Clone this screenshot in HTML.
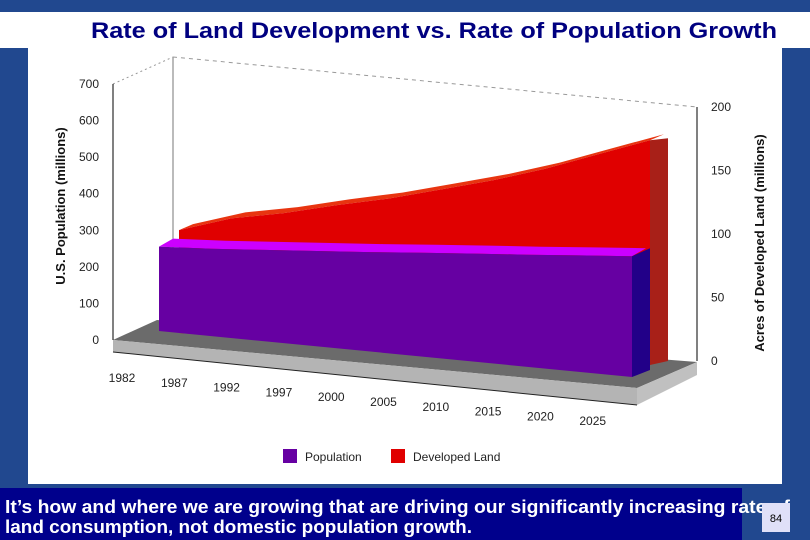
<!DOCTYPE html>
<html><head><meta charset="utf-8"><style>
html,body{margin:0;padding:0;width:810px;height:540px;overflow:hidden;background:#21488f}
svg{display:block}
text{font-family:"Liberation Sans",Arial,sans-serif}
</style></head><body>
<svg id="chart" width="810" height="540" viewBox="0 0 810 540" xmlns="http://www.w3.org/2000/svg">
<rect x="0" y="0" width="810" height="540" fill="#21488f"/>
<rect x="0" y="12" width="810" height="36" fill="#fff"/>
<text x="91" y="38" font-size="22" font-weight="bold" fill="#000080" textLength="686" lengthAdjust="spacingAndGlyphs">Rate of Land Development vs. Rate of Population Growth</text>
<rect x="28" y="48" width="754" height="436" fill="#fff"/>
<g id="plot"></g>
<rect x="0" y="488" width="742" height="52" fill="#00008c"/>
<text x="5" y="513" font-size="18" font-weight="bold" fill="#fff" textLength="785" lengthAdjust="spacingAndGlyphs" font-family="'Liberation Sans Narrow','Liberation Sans',sans-serif">It’s how and where we are growing that are driving our significantly increasing rate of</text>
<text x="5" y="533" font-size="18" font-weight="bold" fill="#fff" textLength="467" lengthAdjust="spacingAndGlyphs" font-family="'Liberation Sans Narrow','Liberation Sans',sans-serif">land consumption, not domestic population growth.</text>
<rect x="762" y="503" width="28" height="29" fill="#e0e0f8"/>
<text x="776" y="522" font-size="11" text-anchor="middle" fill="#000">84</text>
</svg>
<script>
const categories=["1982","1987","1992","1997","2000","2005","2010","2015","2020","2025"];
const population=[232,240,251,262,273,285,297,308,320,332];
const developedLand=[81,93,100,109,117,127,137,149,163,177];
const popTicks=[0,100,200,300,400,500,600,700];
const landTicks=[0,50,100,150,200];

const NS="http://www.w3.org/2000/svg";
const g=document.getElementById('plot');
function mk(tag,attrs,name,parent){const e=document.createElementNS(NS,tag);for(const k in attrs)e.setAttribute(k,attrs[k]);

(parent||g).appendChild(e);return e;}
function pts(a){return a.map(p=>p[0].toFixed(1)+','+p[1].toFixed(1)).join(' ');}
const n=categories.length;
const popX=i=>159+i*(473/(n-1));
const popBase=x=>331+(x-159)*(46/473);
const popY=(i,v)=>popBase(popX(i))-v*0.364;
const landX=i=>179+i*(471/(n-1));
const landBase=x=>333+(x-179)*(32/471);
const landY=(i,v)=>landBase(landX(i))-v*1.27;
const leftAxisY=v=>340-v*(256/700);
const rightAxisY=v=>361-v*(254/200);

mk('line',{x1:173,y1:57,x2:173,y2:320,stroke:'#777','stroke-width':1},'back-wall-edge');
mk('line',{x1:113,y1:84,x2:173,y2:57,stroke:'#999','stroke-dasharray':'2,3'},'top-wall-edge-left');
mk('line',{x1:173,y1:57,x2:697,y2:107,stroke:'#999','stroke-dasharray':'4,4'},'top-wall-edge-back');
mk('polygon',{points:pts([[113,340],[157,320],[697,362],[637,388]]),fill:'#6b6b6b'},'floor-top');
mk('polygon',{points:pts([[113,340],[637,388],[637,405],[113,352]]),fill:'#b4b4b4'},'floor-front');
mk('polygon',{points:pts([[637,388],[697,362],[697,375],[637,405]]),fill:'#c0c0c0'},'floor-side');
mk('line',{x1:113,y1:352,x2:637,y2:405,stroke:'#222','stroke-width':1},'floor-edge');

const ld=14,lh=-6;
const lf=developedLand.map((v,i)=>[landX(i),landY(i,v)]);
const lb=[[landX(n-1),landBase(landX(n-1))],[landX(0),landBase(landX(0))]];
const lt=lf.map(p=>[p[0]+ld,p[1]+lh]).reverse();
mk('polygon',{points:pts(lf.concat(lt)),fill:'#e83410'},'land-top-face');
const lr=lf[n-1],lrb=lb[0];
mk('polygon',{points:pts([lr,[lr[0]+18,lr[1]-2],[lrb[0]+18,lrb[1]-4],lrb]),fill:'#a82018'},'land-side-face');
mk('polygon',{points:pts(lf.concat(lb)),fill:'#e00000'},'land-area');

const pd=14,ph=-8;
const pf=population.map((v,i)=>[popX(i),popY(i,v)]);
const pb=[[popX(n-1),popBase(popX(n-1))],[popX(0),popBase(popX(0))]];
const pt=pf.map(p=>[p[0]+pd,p[1]+ph]).reverse();
mk('polygon',{points:pts(pf.concat(pt)),fill:'#cc00ff'},'population-top-face');
const pr=pf[n-1],prb=pb[0];
mk('polygon',{points:pts([pr,[pr[0]+18,pr[1]-8],[prb[0]+18,prb[1]-7],prb]),fill:'#220088'},'population-side-face');
mk('polygon',{points:pts(pf.concat(pb)),fill:'#6600a2'},'population-area');

mk('line',{x1:113,y1:leftAxisY(700),x2:113,y2:leftAxisY(0),stroke:'#000'},'left-axis');
mk('line',{x1:697,y1:rightAxisY(200),x2:697,y2:rightAxisY(0),stroke:'#000'},'right-axis');
popTicks.forEach(v=>{const t=mk('text',{x:99,y:leftAxisY(v)+4,'font-size':12,'text-anchor':'end',fill:'#222'},'left-tick-label');t.textContent=v;});
landTicks.forEach(v=>{const t=mk('text',{x:711,y:rightAxisY(v)+4,'font-size':12,fill:'#222'},'right-tick-label');t.textContent=v;});
categories.forEach((c,i)=>{const t=mk('text',{x:122+i*52.3,y:382+i*4.8,'font-size':12,'text-anchor':'middle',fill:'#222'},'x-tick-label');t.textContent=c;});
let t=mk('text',{x:0,y:0,'font-size':13,'font-weight':'bold','text-anchor':'middle',fill:'#111',transform:'translate(65,206) rotate(-90)'},'left-axis-title');t.textContent='U.S. Population (millions)';
t=mk('text',{x:0,y:0,'font-size':13,'font-weight':'bold','text-anchor':'middle',fill:'#111',transform:'translate(764,243) rotate(-90)'},'right-axis-title');t.textContent='Acres of Developed Land (millions)';
mk('rect',{x:283,y:449,width:14,height:14,fill:'#6600a2'},'legend-swatch-population');
t=mk('text',{x:305,y:461,'font-size':12,fill:'#222'},'legend-label-population');t.textContent='Population';
mk('rect',{x:391,y:449,width:14,height:14,fill:'#e00000'},'legend-swatch-land');
t=mk('text',{x:413,y:461,'font-size':12,fill:'#222'},'legend-label-land');t.textContent='Developed Land';
</script>
</body></html>
